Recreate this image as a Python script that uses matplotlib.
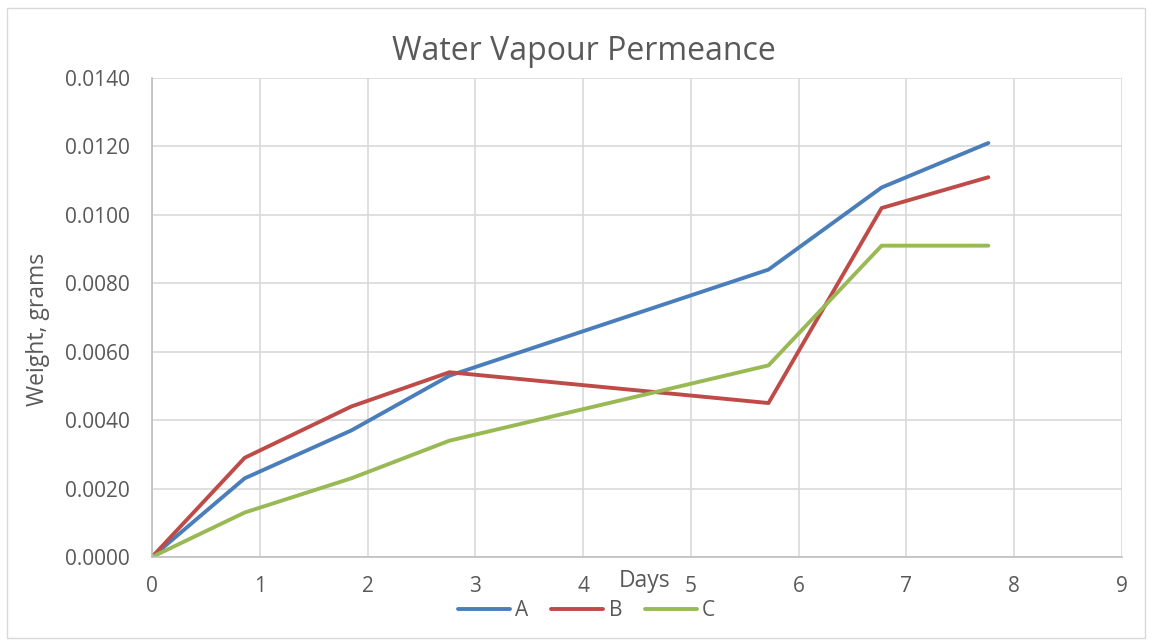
import matplotlib.pyplot as plt
from matplotlib.patches import Rectangle

days = [0, 0.86, 1.85, 2.76, 5.72, 6.77, 7.76]
weight_a = [0, 0.0023, 0.0037, 0.0053, 0.0084, 0.0108, 0.0121]
weight_b = [0, 0.0029, 0.0044, 0.0054, 0.0045, 0.0102, 0.0111]
weight_c = [0, 0.0013, 0.0023, 0.0034, 0.0056, 0.0091, 0.0091]

series = [("A", weight_a, "#4A7EBB"), ("B", weight_b, "#BE4B48"), ("C", weight_c, "#98B954")]
text_col = "#595959"

plt.rcParams['font.family'] = ['Open Sans', 'DejaVu Sans']

fig = plt.figure(figsize=(11.52, 6.41), dpi=100)
ax = fig.add_axes([152 / 1152, 1 - 557 / 641, 970 / 1152, 479 / 641])

for name, vals, col in series:
    ax.plot(days, vals, color=col, lw=2.8, label=name, solid_capstyle='round')

ax.set_xlim(0, 9)
ax.set_ylim(0, 0.014)
ax.set_xticks(range(10))
ax.set_yticks([i * 0.002 for i in range(8)])
ax.set_yticklabels([f"{i * 0.002:.4f}" for i in range(8)])
ax.grid(True, color="#D9D9D9", lw=1.2)
ax.set_axisbelow(True)
for s in ["top", "right"]:
    ax.spines[s].set_visible(False)
for s in ["left", "bottom"]:
    ax.spines[s].set_color("#BFBFBF")
    ax.spines[s].set_linewidth(1.2)
ax.tick_params(length=0, labelsize=15, colors=text_col)
ax.tick_params(axis="x", pad=14)
ax.tick_params(axis="y", pad=16)

fig.text(584 / 1152, 1 - 52 / 641, "Water Vapour Permeance", fontsize=23,
         color=text_col, ha="center", va="center")
ax.set_ylabel("Weight, grams", fontsize=16.5, color=text_col)
ax.yaxis.set_label_coords(-0.105, 0.476)
ax.set_xlabel("Days", fontsize=16.5, color=text_col)
ax.xaxis.set_label_coords(0.508, -0.025)

ax.legend(loc="center", bbox_to_anchor=(0.448, -0.112), ncol=3, frameon=False,
          fontsize=15, labelcolor=text_col, handlelength=2.5, handletextpad=0.25,
          columnspacing=1.1)

fig.patches.append(Rectangle((7 / 1152, 1 - 638 / 641), 1138 / 1152, 630 / 641,
                             transform=fig.transFigure, fill=False, ec="#D9D9D9", lw=1))

fig.savefig("out.png", dpi=100)
